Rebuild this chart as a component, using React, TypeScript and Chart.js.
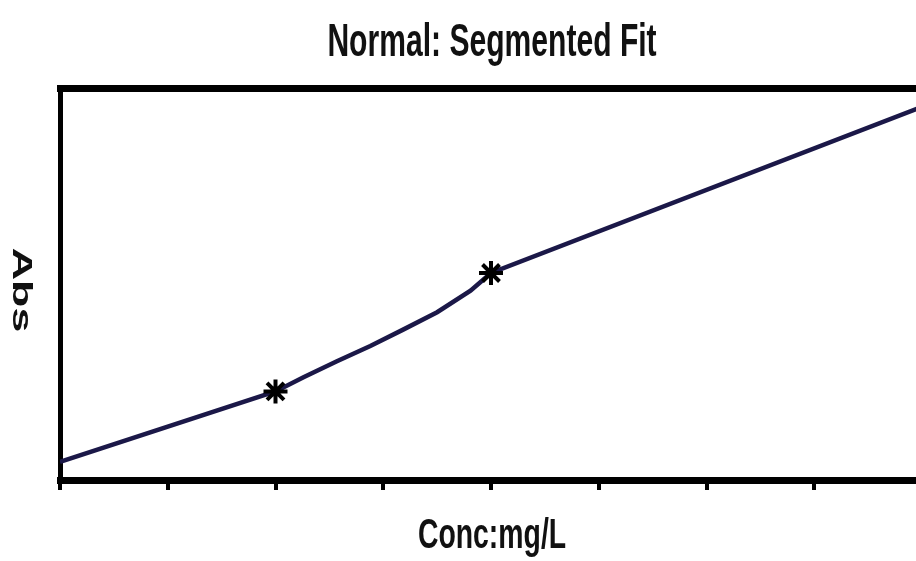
import React, { useEffect, useRef } from "react";
import { Chart, registerables } from "chart.js";

Chart.register(...registerables);

// ---- data ----
const titleText = "Normal: Segmented Fit";
const xAxisTitle = "Conc:mg/L";
const yAxisTitle = "Abs";

// fitted (segmented) curve
const fitConc = [0, 2, 2.26, 2.57, 2.88, 3.18, 3.5, 3.81, 4, 8];
const fitAbs = [0.046, 0.226, 0.262, 0.303, 0.342, 0.383, 0.428, 0.483, 0.528, 0.952];

// measured standards (star markers)
const stdConc = [2, 4];
const stdAbs = [0.226, 0.528];

// x tick positions (no labels shown)
const xTickValues = [0, 1, 2, 3, 4, 5, 6, 7, 8];

const FONT = '"Liberation Sans", Arial, sans-serif';
const CANVAS_W = 938;

const stretchedText = {
  id: "stretchedText",
  afterDraw(chart: any) {
    const ctx: CanvasRenderingContext2D = chart.ctx;
    const draw = (
      text: string,
      cx: number,
      cy: number,
      size: number,
      sAlong: number,
      rot: number
    ) => {
      ctx.save();
      ctx.translate(cx, cy);
      ctx.rotate(rot);
      ctx.scale(sAlong, 1);
      ctx.font = `bold ${size}px ${FONT}`;
      ctx.fillStyle = "#111111";
      ctx.textAlign = "center";
      ctx.textBaseline = "alphabetic";
      // cy is the vertical centre of the capitals
      ctx.fillText(text, 0, size * 0.716 * 0.5);
      ctx.restore();
    };
    draw(titleText, 492, 39, 47, 0.64, 0);
    draw(xAxisTitle, 492, 532.5, 43, 0.66, 0);
    draw(yAxisTitle, 23, 290, 28, 1.6, Math.PI / 2);
  },
};

export default function App() {
  const ref = useRef<HTMLCanvasElement | null>(null);

  useEffect(() => {
    document.body.style.margin = "0";
    const canvas = ref.current;
    if (!canvas) return;
    const chart = new Chart(canvas, {
      type: "scatter",
      data: {
        datasets: [
          {
            label: "Fit",
            data: fitConc.map((x, i) => ({ x, y: fitAbs[i] })),
            showLine: true,
            borderColor: "#1b1848",
            borderWidth: 4.5,
            pointRadius: 0,
            tension: 0,
            order: 2,
          },
          {
            label: "Standards",
            data: stdConc.map((x, i) => ({ x, y: stdAbs[i] })),
            showLine: false,
            pointStyle: "star",
            pointRadius: 12,
            borderWidth: 4,
            borderColor: "#000000",
            backgroundColor: "#000000",
            order: 1,
          },
        ],
      },
      options: {
        responsive: false,
        animation: false,
        devicePixelRatio: 1,
        layout: { padding: { left: 60, top: 88, right: 3, bottom: 71 } },
        plugins: {
          legend: { display: false },
          title: { display: false },
          tooltip: { enabled: false },
        },
        scales: {
          x: {
            type: "linear",
            position: "bottom",
            min: 0,
            max: 8,
            afterBuildTicks: (scale: any) => {
              scale.ticks = xTickValues.map((v) => ({ value: v }));
            },
            ticks: { display: false },
            grid: {
              display: true,
              drawOnChartArea: false,
              drawTicks: true,
              tickLength: 10,
              lineWidth: 4,
              color: "#000000",
            },
            border: { display: true, width: 7, color: "#000000" },
          },
          xTop: {
            type: "linear",
            position: "top",
            min: 0,
            max: 8,
            ticks: { display: false },
            grid: { display: false, drawTicks: false, tickLength: 0 },
            border: { display: true, width: 7, color: "#000000" },
          },
          y: {
            type: "linear",
            position: "left",
            min: 0,
            max: 1,
            ticks: { display: false },
            grid: { display: false, drawTicks: false, tickLength: 0 },
            border: { display: true, width: 5, color: "#000000" },
          },
        },
      },
      plugins: [stretchedText],
    } as any);
    return () => chart.destroy();
  }, []);

  return (
    <div style={{ width: 916, height: 561, overflow: "hidden", background: "#ffffff" }}>
      <canvas
        ref={ref}
        width={CANVAS_W}
        height={561}
        style={{ width: CANVAS_W, height: 561, display: "block" }}
      />
    </div>
  );
}
